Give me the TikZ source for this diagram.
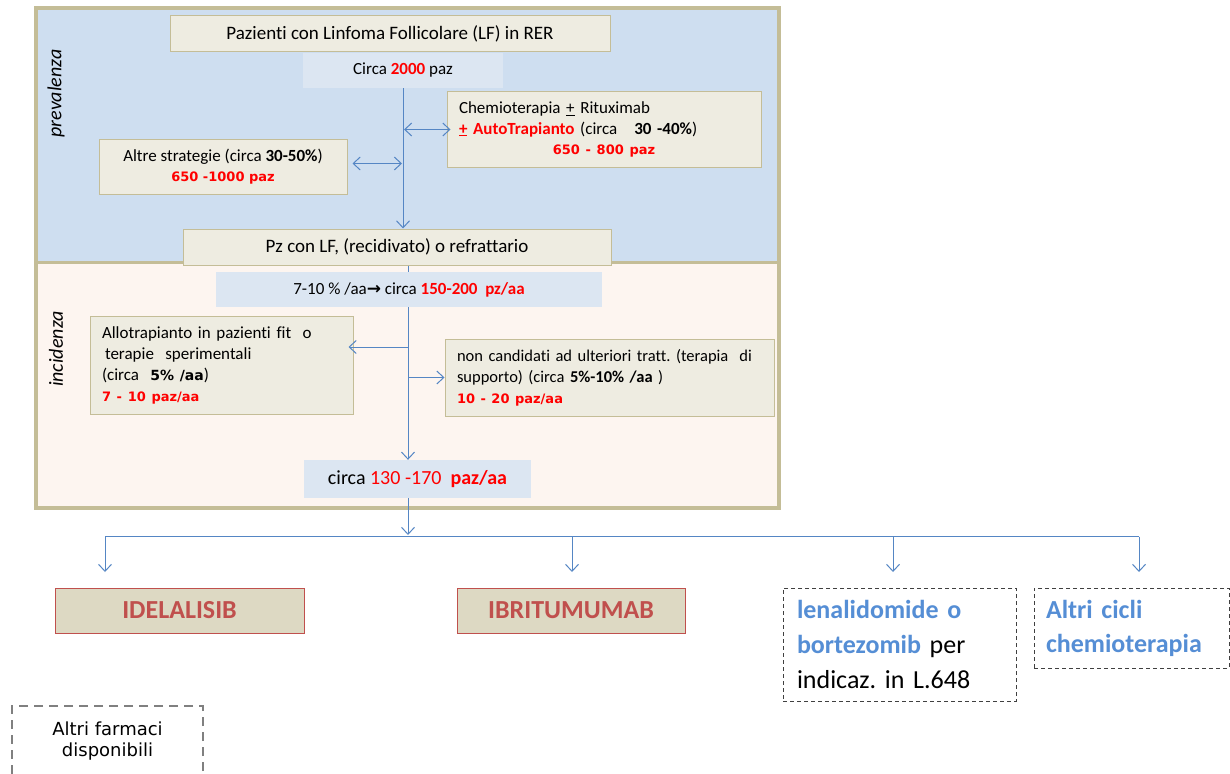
\documentclass[tikz,border=0pt]{standalone}
\usepackage{fontspec}
\setmainfont{Carlito}[Ligatures=NoCommon]
\newfontfamily\dv{DejaVu Sans}
\usetikzlibrary{arrows.meta}
\definecolor{framec}{HTML}{C4BD97}
\definecolor{topbg}{HTML}{CEDEF0}
\definecolor{botbg}{HTML}{FDF5F0}
\definecolor{boxfill}{HTML}{EEECE1}
\definecolor{lblue}{HTML}{DCE6F2}
\definecolor{arrowc}{HTML}{5586C4}
\definecolor{drugfill}{HTML}{DDD9C3}
\definecolor{drugred}{HTML}{C0504D}
\definecolor{tblue}{HTML}{558ED5}
\definecolor{rred}{HTML}{FF0000}
\newcommand{\myfs}[2]{\fontsize{#1}{#2}\selectfont}
\newcommand{\rnum}[1]{{\dv\bfseries\myfs{13}{15}\color{rred}#1}}
\frenchspacing
\begin{document}
\begin{tikzpicture}[x=1pt,y=-1pt,
  gbox/.style={draw=framec, fill=boxfill, line width=1, inner sep=0},
  bbox/.style={fill=lblue, inner sep=0},
  drug/.style={draw=drugred, fill=drugfill, line width=1, inner sep=0,
    text=drugred, font=\myfs{26}{30}\bfseries},
  dbox/.style={draw=black!75, dash pattern=on 4pt off 3pt, line width=1, inner sep=0},
  conn/.style={draw=arrowc, line width=1},
  tip/.tip={Straight Barb[length=7pt,width=13pt]},
  arr/.style={conn, -tip},
  darr/.style={conn, tip-tip}]
\clip (0,0) rectangle (1230,773);
\fill[white] (0,0) rectangle (1230,773);
% panels
\fill[topbg] (36,8.5) rectangle (778.5,262.5);
\fill[botbg] (36,262.5) rectangle (778.5,507.5);
\draw[framec, line width=3] (36,262.5) -- (778.5,262.5);
\draw[framec, line width=4] (36,8.5) rectangle (778.5,507.5);
\node[rotate=90, font=\myfs{20}{24}\itshape] (prev) at (56,93.5) {prevalenza};
\node[rotate=90, font=\myfs{20}{24}\itshape] (inc) at (56,349) {incidenza};
% top part
\node[gbox, minimum width=440, minimum height=36, font=\myfs{19}{23}] (title) at (390,33.5)
  {Pazienti con Linfoma Follicolare (LF) in RER};
\node[bbox, minimum width=200, minimum height=35, font=\myfs{17}{20}] (c2000) at (403,70.5)
  {Circa {\bfseries\color{rred}2000} paz};
\node[gbox, minimum width=314, minimum height=75, text width=290, align=left,
  inner xsep=12, font=\myfs{17}{20.5}] (chemio) at (604,129.5)
  {Chemioterapia \underline{+} Rituximab\\
   {\color{rred}\bfseries\underline{+} AutoTrapianto} (circa\ \ \ {\bfseries 30 -40\%})\\
   \makebox[\linewidth][c]{\rnum{650 - 800 paz}}};
\node[gbox, minimum width=248, minimum height=55, align=center,
  font=\myfs{17}{20}] (altre) at (223,166.5)
  {Altre strategie (circa {\bfseries 30-50\%})\\ \rnum{650 -1000 paz}};
\node[gbox, minimum width=428, minimum height=36, font=\myfs{19}{23}] (pz) at (397,247)
  {Pz con LF, (recidivato) o refrattario};
% bottom part
\node[bbox, minimum width=386, minimum height=35, font=\myfs{17}{20}] (tenpct) at (409,289.5)
  {7-10 \% /aa{\dv\bfseries\myfs{17}{20}→} circa {\color{rred}\bfseries 150-200\ \ pz/aa}};
\node[gbox, minimum width=263, minimum height=98, text width=239, align=left,
  inner xsep=12, font=\myfs{17}{21}] (allo) at (221.5,365)
  {Allotrapianto in pazienti fit\ \ o\\
   \hspace*{3pt}terapie\ \ sperimentali\\
   (circa\ \ {\dv\bfseries\myfs{14}{16}5\% /aa})\\
   \rnum{7 - 10 paz/aa}};
\node[gbox, minimum width=325, minimum height=77, text width=305, align=left,
  inner xsep=12, font=\myfs{16.5}{21}] (noncand) at (609.5,377.5)
  {non candidati ad ulteriori tratt. (terapia\ \ di\\
   supporto) (circa {\bfseries 5\%-10\% /aa} )\\
   \rnum{10 - 20 paz/aa}};
\node[bbox, minimum width=227, minimum height=38, font=\myfs{20}{24}] (c130) at (417.5,479)
  {circa {\color{rred}130 -170\ \ \bfseries paz/aa}};
% outcome boxes
\node[drug, minimum width=249, minimum height=45] (idel) at (179.5,610.5) {IDELALISIB};
\node[drug, minimum width=228, minimum height=45] (ibri) at (571,610.5) {IBRITUMUMAB};
\node[dbox, minimum width=233, minimum height=113, text width=205, align=left,
  inner xsep=14, font=\myfs{26}{35}] (lenal) at (899.5,644.5)
  {{\color{tblue}\bfseries lenalidomide o}\\
   {\color{tblue}\bfseries bortezomib} per\\
   indicaz. in L.648};
\node[dbox, minimum width=195, minimum height=80, text width=171, align=left,
  inner xsep=12, font=\myfs{26}{34}\bfseries\color{tblue}] (cicli) at (1131.5,628)
  {Altri cicli\\ chemioterapia};
\node[draw=black!50, dash pattern=on 9pt off 6pt, line width=2, minimum width=191,
  minimum height=84] (farm) at (107.5,748) {};
\node[align=center, font=\dv\myfs{18}{21}] (farmtxt) at (107.5,741.5)
  {Altri farmaci\\ disponibili};
% connectors
\coordinate (xa) at (403,0);
\coordinate (xb) at (408,0);
\draw[arr] (c2000.south -| xa) -- (pz.north -| xa);
\draw[darr] ([xshift=1pt]xa |- chemio.west) -- ([xshift=4pt]chemio.west);
\coordinate (aa) at ([xshift=5pt,yshift=3pt]altre.east);
\draw[darr] (aa) -- ([xshift=-1pt]aa -| xa);
\draw[conn] (pz.south -| xb) -- (tenpct.north -| xb);
\draw[arr] (tenpct.south -| xb) -- (c130.north -| xb);
\coordinate (al) at ([xshift=-5pt,yshift=18pt]allo.east);
\draw[arr] (al -| xb) -- (al);
\draw[arr] (xb |- noncand.west) -- (noncand.west);
\coordinate (hb) at (408,535);
\draw[arr] (c130.south -| xb) -- (hb);
\coordinate (h1) at (105,536.5);
\coordinate (h2) at (572,536.5);
\coordinate (h3) at (893,536.5);
\coordinate (h4) at (1139,536.5);
\draw[conn, line width=1.4] (h1) -- (h4);
\coordinate (t1) at (105,572);
\coordinate (t2) at (572,572);
\coordinate (t3) at (893,572);
\coordinate (t4) at (1139,572);
\draw[arr] (h1) -- (t1);
\draw[arr] (h2) -- (t2);
\draw[arr] (h3) -- (t3);
\draw[arr] (h4) -- (t4);
\end{tikzpicture}
\end{document}
